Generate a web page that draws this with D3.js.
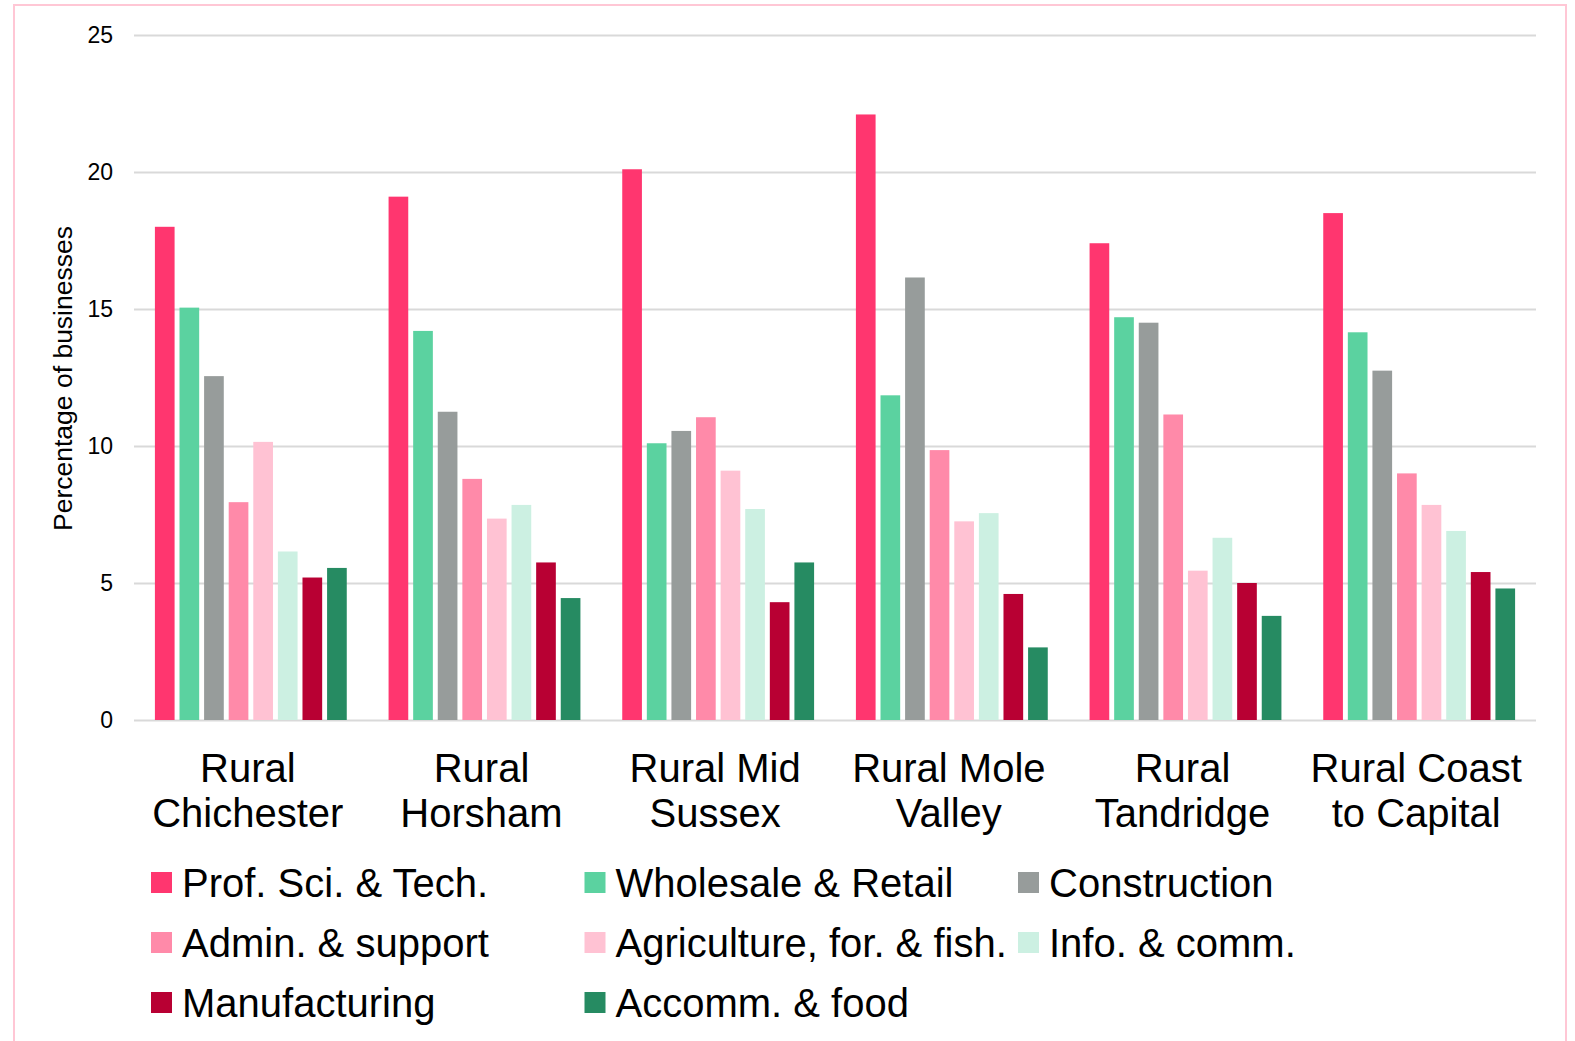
<!DOCTYPE html>
<html>
<head>
<meta charset="utf-8">
<script src="https://cdn.jsdelivr.net/npm/d3@7"></script>
<style>
  body { margin: 0; background: #fff; }
  text { font-family: "Liberation Sans", Arial, sans-serif; fill: #000; }
</style>
</head>
<body>
<svg id="chart" width="1575" height="1041"></svg>
<script>
// areas (two-line labels)
const categories = [
  ['Rural', 'Chichester'],
  ['Rural', 'Horsham'],
  ['Rural Mid', 'Sussex'],
  ['Rural Mole', 'Valley'],
  ['Rural', 'Tandridge'],
  ['Rural Coast', 'to Capital']
];

const seriesNames = [
  'Prof. Sci. & Tech.', 'Wholesale & Retail', 'Construction',
  'Admin. & support', 'Agriculture, for. & fish.', 'Info. & comm.',
  'Manufacturing', 'Accomm. & food'
];
const seriesColors = [
  '#ff366f', '#5bd2a0', '#979c9b',
  '#ff8aa9', '#ffc2d3', '#ccf0e2',
  '#b80033', '#268b62'
];

// percentage of businesses, one array per sector, in category order
const profSci      = [18.0, 19.1, 20.1, 22.1, 17.4, 18.5];
const wholesale    = [15.05, 14.2, 10.1, 11.85, 14.7, 14.15];
const construction = [12.55, 11.25, 10.55, 16.15, 14.5, 12.75];
const admin        = [7.95, 8.8, 11.05, 9.85, 11.15, 9.0];
const agriculture  = [10.15, 7.35, 9.1, 7.25, 5.45, 7.85];
const infoComm     = [6.15, 7.85, 7.7, 7.55, 6.65, 6.9];
const manufacturing = [5.2, 5.75, 4.3, 4.6, 5.0, 5.4];
const accommFood   = [5.55, 4.45, 5.75, 2.65, 3.8, 4.8];

const yTicks = [0, 5, 10, 15, 20, 25];

const seriesValues = [profSci, wholesale, construction, admin, agriculture, infoComm, manufacturing, accommFood];

const svg = d3.select('#chart');

// outer pink frame
svg.append('rect')
  .attr('x', 14).attr('y', 5)
  .attr('width', 1552).attr('height', 1060)
  .attr('fill', 'none')
  .attr('stroke', '#ffc7d5')
  .attr('stroke-width', 2);

const plotLeft = 134, plotRight = 1536, plotTop = 35, plotBottom = 720;

const x0 = d3.scaleBand()
  .domain(d3.range(categories.length))
  .range([plotLeft, plotRight]);

const x1 = d3.scaleBand()
  .domain(d3.range(seriesNames.length))
  .range([0, x0.bandwidth()])
  .paddingInner(0.2)
  .paddingOuter(0.85);

const y = d3.scaleLinear()
  .domain([0, 25])
  .range([plotBottom, plotTop]);

// gridlines + tick labels
const yAxis = svg.append('g')
  .attr('transform', `translate(${plotLeft},0)`)
  .call(d3.axisLeft(y).tickValues(yTicks).tickSize(-(plotRight - plotLeft)).tickPadding(21));
yAxis.select('.domain').remove();
yAxis.selectAll('.tick line').attr('stroke', '#d9d9d9').attr('stroke-width', 2);
yAxis.selectAll('.tick text')
  .attr('font-size', 23)
  .attr('font-family', '"Liberation Sans", Arial, sans-serif');

svg.append('text')
  .attr('transform', `translate(72,${(plotTop + plotBottom) / 2 + 1}) rotate(-90)`)
  .attr('text-anchor', 'middle')
  .attr('font-size', 26.5)
  .text('Percentage of businesses');

// bars
const groups = svg.append('g')
  .selectAll('g')
  .data(categories)
  .join('g')
  .attr('transform', (_, i) => `translate(${x0(i)},0)`);

groups.selectAll('rect')
  .data((_, i) => seriesValues.map((vals, s) => ({s, v: vals[i]})))
  .join('rect')
  .attr('x', d => x1(d.s))
  .attr('width', x1.bandwidth())
  .attr('y', d => y(d.v))
  .attr('height', d => y(0) - y(d.v))
  .attr('fill', d => seriesColors[d.s]);

// category labels
const catLabels = svg.append('g')
  .selectAll('text')
  .data(categories)
  .join('text')
  .attr('text-anchor', 'middle')
  .attr('font-size', 40)
  .attr('x', (_, i) => x0(i) + x0.bandwidth() / 2 - 3)
  .attr('y', 782);
catLabels.selectAll('tspan')
  .data(d => d)
  .join('tspan')
  .attr('x', function () { return d3.select(this.parentNode).attr('x'); })
  .attr('dy', (_, j) => j === 0 ? 0 : 45)
  .text(d => d);

// legend, 3 columns
const legend = svg.append('g')
  .selectAll('g')
  .data(seriesNames)
  .join('g')
  .attr('transform', (_, i) => `translate(${151 + (i % 3) * 433.5},${882.5 + Math.floor(i / 3) * 60})`);

legend.append('rect')
  .attr('x', 0).attr('y', -10.5)
  .attr('width', 21).attr('height', 21)
  .attr('fill', (_, i) => seriesColors[i]);

legend.append('text')
  .attr('x', 31)
  .attr('dy', '0.35em')
  .attr('font-size', 40)
  .text(d => d);
</script>
</body>
</html>
